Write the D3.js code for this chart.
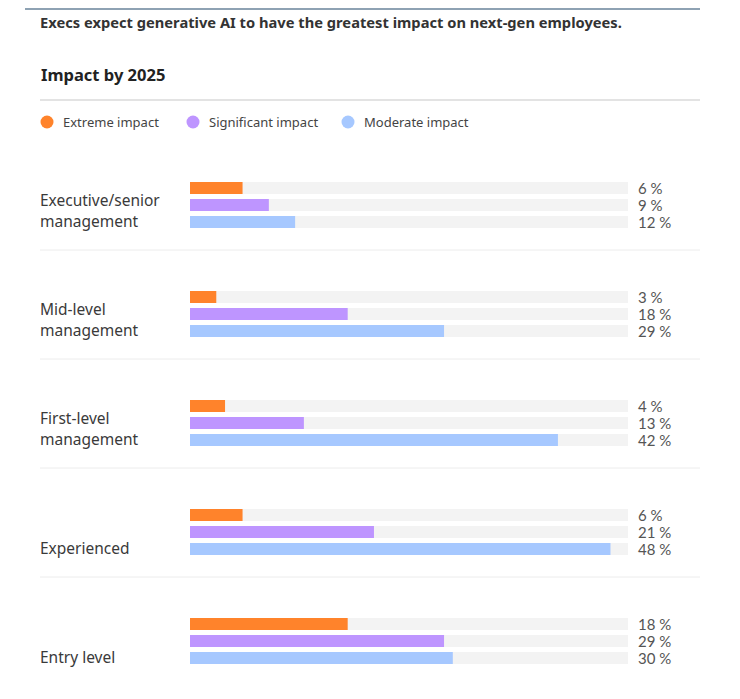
<!DOCTYPE html>
<html>
<head>
<meta charset="utf-8">
<script src="https://cdn.jsdelivr.net/npm/d3@7/dist/d3.min.js"></script>
<style>
  html, body { margin: 0; padding: 0; background: #ffffff; }
  svg { display: block; }
</style>
</head>
<body>
<svg id="chart" width="740" height="699"></svg>
<script>
const categories = ["Executive/senior management", "Mid-level management", "First-level management", "Experienced", "Entry level"];
const categoryLines = [["Executive/senior", "management"], ["Mid-level", "management"], ["First-level", "management"], ["Experienced"], ["Entry level"]];
const seriesNames = ["Extreme impact", "Significant impact", "Moderate impact"];
const seriesColors = ["#ff832b", "#be95ff", "#a6c8ff"];
const extremeValues = [6, 3, 4, 6, 18];
const significantValues = [9, 18, 13, 21, 29];
const moderateValues = [12, 29, 42, 48, 30];
const seriesValues = [extremeValues, significantValues, moderateValues];
const xDomainMax = 50;

const svg = d3.select("#chart");
const sans = "'Noto Sans', 'Open Sans', sans-serif";

// top rule
svg.append("line").attr("x1", 25).attr("x2", 700).attr("y1", 9).attr("y2", 9)
  .attr("stroke", "#8ea2b3").attr("stroke-width", 2);

svg.append("text").attr("x", 40).attr("y", 28)
  .attr("font-family", sans).attr("font-weight", 700).attr("font-size", 14.7)
  .attr("fill", "#333").text("Execs expect generative AI to have the greatest impact on next-gen employees.");

svg.append("text").attr("x", 41).attr("y", 81)
  .attr("font-family", sans).attr("font-weight", 700).attr("font-size", 16.5)
  .attr("fill", "#222").text("Impact by 2025");

svg.append("line").attr("x1", 40).attr("x2", 700).attr("y1", 100).attr("y2", 100)
  .attr("stroke", "#c8c8c8").attr("stroke-width", 1.2);

// legend
const legendX = [47, 193, 348];
const lg = svg.append("g");
seriesNames.forEach((s, i) => {
  lg.append("circle").attr("cx", legendX[i]).attr("cy", 122).attr("r", 6.5).attr("fill", seriesColors[i]);
  lg.append("text").attr("x", legendX[i] + 16).attr("y", 126.5)
    .attr("font-family", sans).attr("font-size", 13).attr("fill", "#444").text(s);
});

// scales
const x = d3.scaleLinear().domain([0, xDomainMax]).range([190, 628]);
const yGroup = d3.scalePoint().domain(categories).range([182, 618]);
const yInner = d3.scaleBand().domain(seriesNames).range([0, 46]).paddingInner(5 / 17).paddingOuter(0);

const groups = svg.selectAll("g.grp").data(categories).join("g")
  .attr("class", "grp")
  .attr("transform", d => `translate(0,${yGroup(d)})`);

groups.each(function(cat, ci) {
  const g = d3.select(this);
  seriesNames.forEach((s, si) => {
    const v = seriesValues[si][ci];
    const y0 = yInner(s);
    g.append("rect").attr("x", x(0)).attr("y", y0).attr("width", x(xDomainMax) - x(0))
      .attr("height", yInner.bandwidth()).attr("fill", "#f3f3f3");
    g.append("rect").attr("x", x(0)).attr("y", y0).attr("width", x(v) - x(0))
      .attr("height", yInner.bandwidth()).attr("fill", seriesColors[si]);
    g.append("text").attr("x", 638).attr("y", y0 + yInner.bandwidth() / 2 + 5.5)
      .attr("font-family", "Lato, sans-serif").attr("font-size", 15).attr("fill", "#555")
      .text(v + " %");
  });
  // category label, bottom-aligned to last bar
  const lines = categoryLines[ci];
  const lastCenter = yInner(seriesNames[2]) + yInner.bandwidth() / 2;
  lines.forEach((ln, li) => {
    g.append("text").attr("x", 40)
      .attr("y", lastCenter + 5 - (lines.length - 1 - li) * 21)
      .attr("font-family", sans).attr("font-size", 15.5).attr("fill", "#3a3a3a").text(ln);
  });
  if (ci < categories.length - 1) {
    g.append("line").attr("x1", 40).attr("x2", 700).attr("y1", 68).attr("y2", 68)
      .attr("stroke", "#ececec").attr("stroke-width", 1);
  }
});
</script>
</body>
</html>
